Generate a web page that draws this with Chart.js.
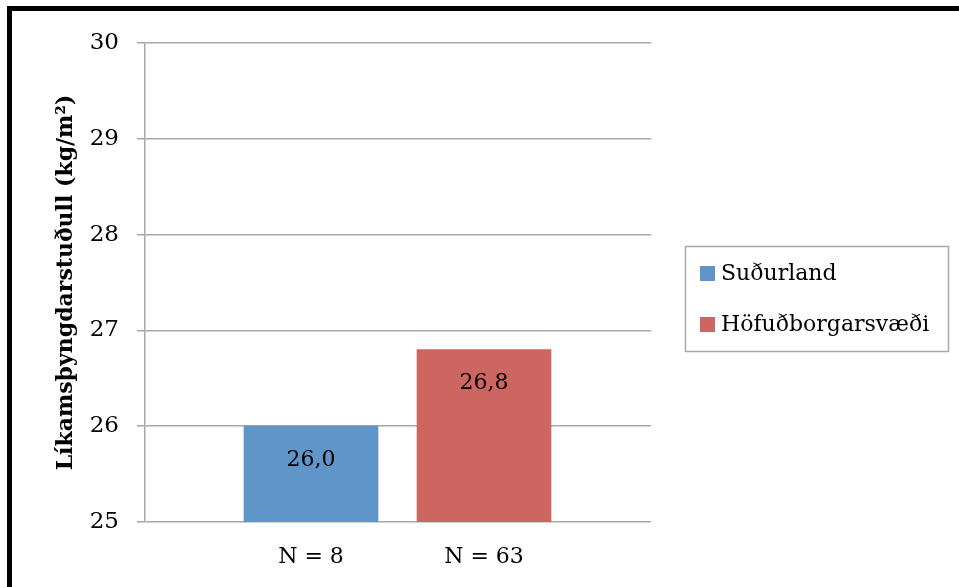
<!DOCTYPE html>
<html>
<head>
<meta charset="utf-8">
<script src="https://cdn.jsdelivr.net/npm/chart.js@4/dist/chart.umd.min.js"></script>
<style>
  html, body { margin: 0; padding: 0; background: #fff; }
  #wrap { width: 959px; height: 587px; position: relative; }
</style>
</head>
<body>
<div id="wrap"><canvas id="c" width="959" height="587"></canvas></div>
<script>
// Sample sizes shown under each bar
const categories = ['N = 8', 'N = 63'];
// Regions (one series per region)
const seriesNames = ['Suðurland', 'Höfuðborgarsvæði'];
// Mean body mass index per region
const bmiValues = [26.0, 26.8];
const seriesColors = ['#6095c9', '#cd6560'];
// Y axis range and step
const yMin = 25, yMax = 30, yStep = 1;

const FONT = '"DejaVu Serif", "Liberation Serif", serif';
const GRID = '#a8a8a8';

const datasets = seriesNames.map((name, i) => ({
  label: name,
  data: [{ x: i, y: bmiValues[i] }],
  backgroundColor: seriesColors[i],
  borderWidth: 0,
  grouped: false,
  barThickness: 134,
  barPercentage: 1,
  categoryPercentage: 1
}));

const fmt = v => v.toFixed(1).replace('.', ',');

// White page plus the heavy frame along the left and top edges
const framePlugin = {
  id: 'frame',
  beforeDraw(chart) {
    const ctx = chart.ctx;
    ctx.save();
    ctx.fillStyle = '#fff';
    ctx.fillRect(0, 0, chart.width, chart.height);
    ctx.restore();
  },
  afterDraw(chart) {
    const ctx = chart.ctx;
    ctx.save();
    ctx.fillStyle = '#000';
    ctx.fillRect(7, 6, 5, chart.height);
    ctx.fillRect(7, 6, chart.width, 5);
    ctx.restore();
  }
};

// Value labels placed just inside the top of each bar
const valueLabels = {
  id: 'valueLabels',
  afterDatasetsDraw(chart) {
    const ctx = chart.ctx;
    ctx.save();
    ctx.font = '22px ' + FONT;
    ctx.fillStyle = '#000';
    ctx.textAlign = 'center';
    ctx.textBaseline = 'middle';
    chart.data.datasets.forEach((ds, di) => {
      const meta = chart.getDatasetMeta(di);
      meta.data.forEach((el, j) => {
        ctx.fillText(fmt(ds.data[j].y), el.x, el.y + 34);
      });
    });
    ctx.restore();
  }
};

// Boxed legend to the right of the plot
const boxedLegend = {
  id: 'boxedLegend',
  afterDraw(chart) {
    const ctx = chart.ctx;
    const bx = 685.5, by = 246.5, bw = 263, bh = 105;
    ctx.save();
    ctx.strokeStyle = GRID;
    ctx.lineWidth = 1.5;
    ctx.strokeRect(bx, by, bw, bh);
    ctx.font = '22px ' + FONT;
    ctx.fillStyle = '#000';
    ctx.textBaseline = 'middle';
    ctx.textAlign = 'left';
    chart.data.datasets.forEach((ds, i) => {
      const cy = 273.5 + i * 51;
      ctx.fillStyle = ds.backgroundColor;
      ctx.fillRect(700, cy - 7.5, 15, 15);
      ctx.fillStyle = '#000';
      ctx.fillText(ds.label, 721, cy + 1);
    });
    ctx.restore();
  }
};

Chart.defaults.color = '#000';
Chart.defaults.font.family = FONT;

new Chart(document.getElementById('c'), {
  type: 'bar',
  data: { datasets },
  options: {
    responsive: false,
    animation: false,
    events: [],
    layout: { padding: { top: 43, right: 308, bottom: 0, left: 0 } },
    plugins: {
      legend: { display: false },
      tooltip: { enabled: false }
    },
    scales: {
      x: {
        type: 'linear',
        offset: false,
        min: -0.9595,
        max: 1.965,
        grid: { display: false, offset: false },
        border: { display: false },
        afterBuildTicks(axis) {
          axis.ticks = categories.map((_, i) => ({ value: i }));
        },
        afterFit(axis) { axis.height = 65; },
        ticks: {
          autoSkip: false,
          maxRotation: 0,
          padding: 14,
          font: { size: 22 },
          callback: v => categories[v]
        }
      },
      y: {
        min: yMin,
        max: yMax,
        afterFit(axis) { axis.width = 145; },
        ticks: {
          stepSize: yStep,
          padding: 18,
          font: { size: 23 },
          callback: v => String(v)
        },
        grid: {
          color: GRID,
          lineWidth: 1.5,
          tickLength: 8,
          drawTicks: true
        },
        border: { display: true, color: GRID, width: 1.5 },
        title: {
          display: true,
          text: 'Líkamsþyngdarstuðull (kg/m²)',
          font: { size: 22, weight: 'bold' },
          padding: { top: 53, bottom: 0 }
        }
      }
    }
  },
  plugins: [framePlugin, valueLabels, boxedLegend]
});
</script>
</body>
</html>
